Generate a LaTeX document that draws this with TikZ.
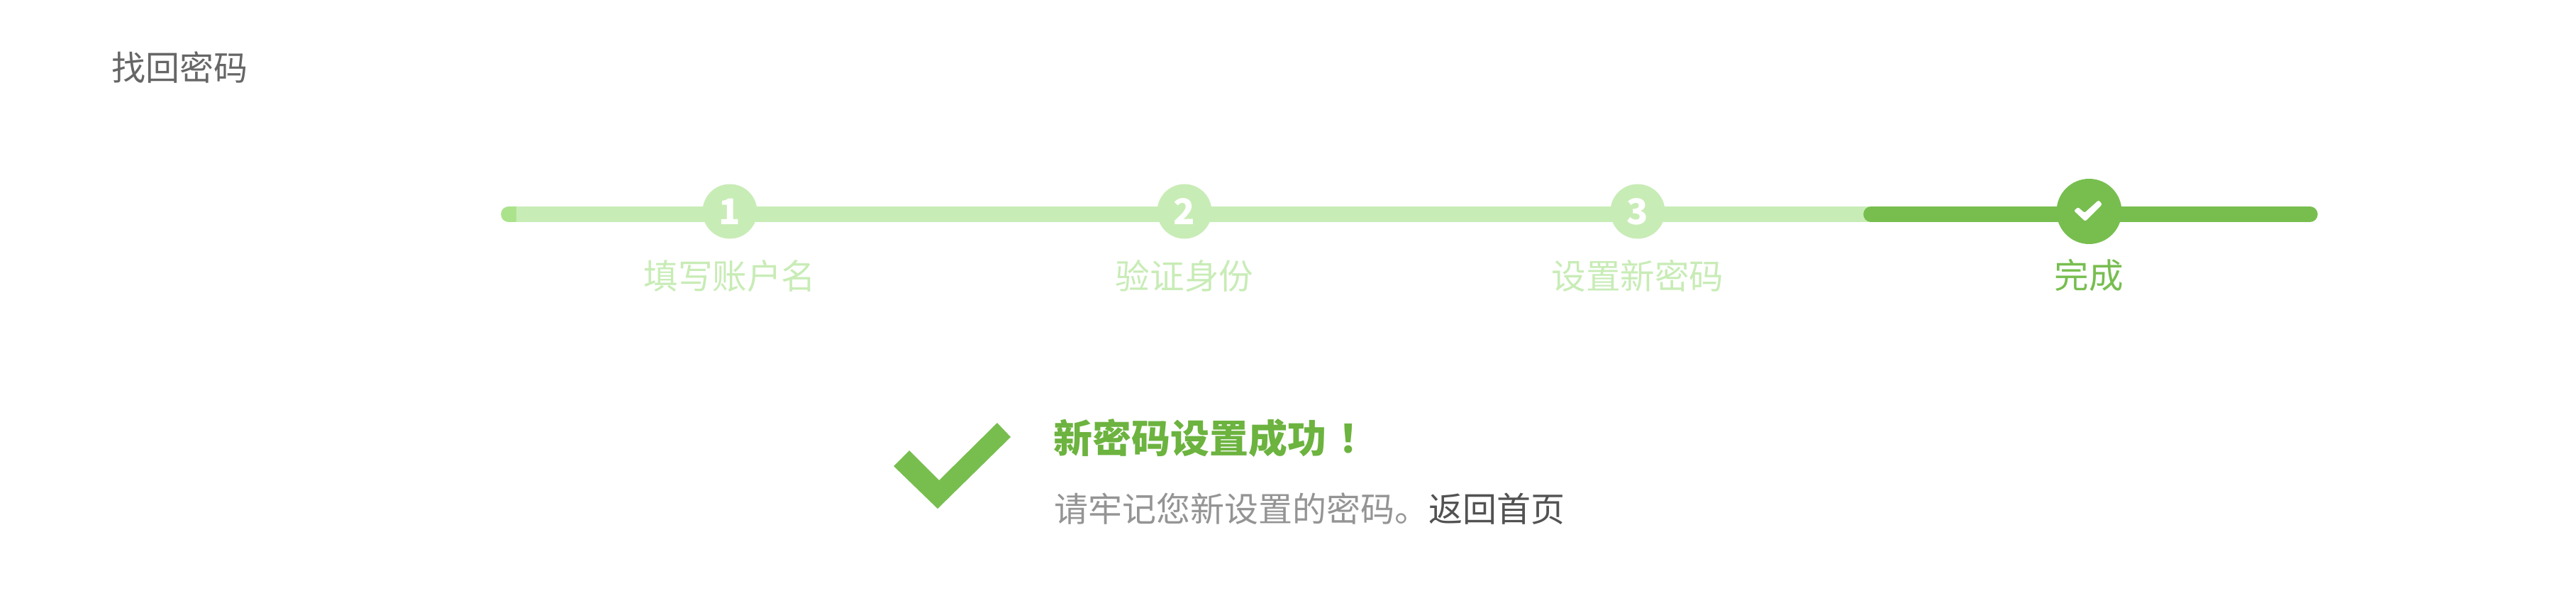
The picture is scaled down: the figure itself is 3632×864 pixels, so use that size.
\documentclass[tikz,border=0pt]{standalone}
\usepackage{fontspec}
\setmainfont{Noto Sans CJK SC}
\usetikzlibrary{positioning}
\definecolor{palegreen}{HTML}{C8ECB6}
\definecolor{capgreen}{HTML}{ABE38C}
\definecolor{donegreen}{HTML}{77BE4F}
\definecolor{titlegreen}{HTML}{6CB33F}
\begin{document}
\begin{tikzpicture}[x=0.25pt, y=-0.25pt,
					every node/.append style={inner sep=0pt, outer sep=0pt},
					stepdot/.style={circle, fill=palegreen, minimum size=19.25pt, text=white, font=\fontsize{12.5}{12.5}\selectfont\bfseries},
					donedot/.style={circle, fill=donegreen, minimum size=23pt},
					bar/.style={line width=5.4pt, line cap=round},
					textline/.style={text height=10.5pt, text depth=1pt},
					steplabel/.style={textline, text=palegreen, font=\fontsize{12.15}{12}\selectfont}]
					\useasboundingbox (0,0) rectangle (3632,864);
					\node [textline, anchor=west, text=black!60, font=\fontsize{12}{12}\selectfont] (heading) at (157,95) {找回密码};
					\coordinate (barstart) at (717,302);
					\coordinate (capend) at (728,302);
					\coordinate (doneend) at (3257,302);
					\coordinate (donestart) at (2638,302);
					\draw [bar, capgreen] (barstart) -- (capend);
					\draw [bar, palegreen, line cap=butt] (capend) -- (donestart);
					\draw [bar, donegreen] (donestart) -- (doneend);
					\node [stepdot] (dotone) at (1029,298) {1};
					\node [stepdot] (dottwo) at (1670,298) {2};
					\node [stepdot] (dotthree) at (2309,298) {3};
					\node [donedot] (dotdone) at (2945.5,298) {};
					\fill [white, rounded corners=0.6pt] (2924,297) -- (2930,292) -- (2939,300) -- (2959,282) -- (2964,288) -- (2940,312) -- cycle;
					\node [steplabel, below=7.25pt of dotone.south] (labelone) {填写账户名};
					\node [steplabel, below=7.25pt of dottwo.south] (labeltwo) {验证身份};
					\node [steplabel, below=7.25pt of dotthree.south] (labelthree) {设置新密码};
					\node [steplabel, below=5.25pt of dotdone.south, text=donegreen] (labeldone) {完成};
					\fill [donegreen] (1260,657) -- (1282,635) -- (1324,677) -- (1406,596) -- (1425,616) -- (1322,717) -- cycle;
					\node [textline, anchor=west, text=titlegreen, font=\fontsize{13.75}{14}\selectfont\bfseries] (title) at (1485,620) {新密码设置成功\hspace{4.5pt}！};
					\node [textline, anchor=west, text=black!42, font=\fontsize{12}{12}\selectfont] (hint) at (1486,717) {请牢记您新设置的密码。};
					\node [textline, right=0pt of hint, text=black!68, font=\fontsize{12}{12}\selectfont] (homelink) {返回首页};
					\end{tikzpicture}
\end{document}
